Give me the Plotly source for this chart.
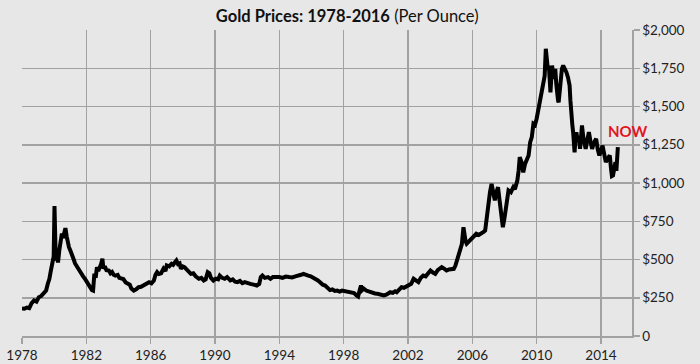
import plotly.graph_objects as go

years = [
    1978.00, 1978.15, 1978.30, 1978.45, 1978.60, 1978.75, 1978.90, 1979.05, 1979.20, 1979.35,
    1979.50, 1979.60, 1979.70, 1979.80, 1979.90, 1979.97, 1980.02, 1980.06, 1980.10, 1980.18,
    1980.24, 1980.32, 1980.40, 1980.48, 1980.55, 1980.62, 1980.70, 1980.78, 1980.86, 1980.92,
    1981.00, 1981.10, 1981.20, 1981.30, 1981.40, 1981.50, 1981.60, 1981.70, 1981.80, 1981.90,
    1982.00, 1982.10, 1982.25, 1982.35, 1982.42, 1982.50, 1982.58, 1982.66, 1982.74, 1982.82,
    1982.92, 1983.00, 1983.06, 1983.15, 1983.25, 1983.40, 1983.50, 1983.60, 1983.70, 1983.80,
    1983.95, 1984.05, 1984.20, 1984.30, 1984.45, 1984.60, 1984.70, 1984.80, 1984.95, 1985.10,
    1985.25, 1985.40, 1985.55, 1985.70, 1985.80, 1985.90, 1986.05, 1986.20, 1986.30, 1986.40,
    1986.50, 1986.65, 1986.80, 1986.92, 1987.00, 1987.15, 1987.30, 1987.40, 1987.50, 1987.60,
    1987.70, 1987.80, 1987.88, 1988.00, 1988.10, 1988.25, 1988.40, 1988.50, 1988.65, 1988.80,
    1989.00, 1989.15, 1989.30, 1989.42, 1989.55, 1989.65, 1989.75, 1989.90, 1990.05, 1990.20,
    1990.30, 1990.45, 1990.60, 1990.75, 1990.95, 1991.10, 1991.25, 1991.40, 1991.55, 1991.70,
    1991.85, 1992.00, 1992.20, 1992.40, 1992.60, 1992.75, 1992.85, 1992.95, 1993.10, 1993.30,
    1993.45, 1993.60, 1993.80, 1994.00, 1994.20, 1994.40, 1994.60, 1994.80, 1995.00, 1995.20,
    1995.35, 1995.50, 1995.65, 1995.80, 1995.95, 1996.10, 1996.25, 1996.40, 1996.55, 1996.70,
    1996.85, 1997.00, 1997.15, 1997.30, 1997.45, 1997.60, 1997.75, 1997.90, 1998.05, 1998.20,
    1998.35, 1998.50, 1998.65, 1998.80, 1998.90, 1999.00, 1999.08, 1999.15, 1999.25, 1999.40,
    1999.55, 1999.65, 1999.80, 1999.95, 2000.10, 2000.25, 2000.40, 2000.50, 2000.65, 2000.80,
    2000.90, 2001.05, 2001.20, 2001.30, 2001.45, 2001.60, 2001.75, 2001.90, 2002.05, 2002.20,
    2002.35, 2002.50, 2002.65, 2002.80, 2002.95, 2003.10, 2003.25, 2003.40, 2003.55, 2003.70,
    2003.85, 2004.00, 2004.10, 2004.25, 2004.40, 2004.55, 2004.70, 2004.85, 2004.95, 2005.05,
    2005.15, 2005.25, 2005.35, 2005.45, 2005.52, 2005.58, 2005.65, 2005.75, 2005.85, 2006.00,
    2006.15, 2006.25, 2006.40, 2006.55, 2006.70, 2006.80, 2006.90, 2007.00, 2007.10, 2007.20,
    2007.30, 2007.40, 2007.50, 2007.60, 2007.68, 2007.75, 2007.82, 2007.90, 2008.00, 2008.10,
    2008.18, 2008.25, 2008.40, 2008.55, 2008.65, 2008.80, 2008.88, 2008.95, 2009.05, 2009.17,
    2009.28, 2009.40, 2009.50, 2009.60, 2009.70, 2009.80, 2009.90, 2010.00, 2010.10, 2010.20,
    2010.30, 2010.40, 2010.50, 2010.57, 2010.63, 2010.70, 2010.76, 2010.82, 2010.86, 2010.92,
    2010.96, 2011.02, 2011.06, 2011.12, 2011.16, 2011.22, 2011.26, 2011.33, 2011.37, 2011.45,
    2011.52, 2011.57, 2011.65, 2011.75, 2011.85, 2011.95, 2012.05, 2012.10, 2012.15, 2012.22,
    2012.27, 2012.32, 2012.36, 2012.42, 2012.47, 2012.55, 2012.62, 2012.70, 2012.76, 2012.82,
    2012.90, 2012.98, 2013.05, 2013.15, 2013.25, 2013.35, 2013.45, 2013.55, 2013.70, 2013.80,
    2013.90, 2014.00, 2014.10, 2014.20, 2014.30, 2014.42, 2014.55, 2014.62, 2014.68, 2014.75,
    2014.82, 2014.90, 2014.96, 2015.00, 2015.05,
]

prices = [
    180, 178, 186, 182, 215, 232, 225, 254, 262, 282,
    297, 340, 372, 430, 470, 520, 850, 640, 493, 520,
    480, 560, 624, 670, 640, 690, 705, 650, 600, 580,
    560, 539, 505, 474, 455, 440, 428, 400, 390, 376,
    360, 335, 319, 300, 297, 408, 380, 450, 425, 440,
    470, 505, 441, 455, 430, 428, 410, 418, 400, 395,
    400, 380, 374, 372, 350, 341, 335, 310, 297, 305,
    319, 322, 330, 335, 341, 352, 345, 363, 400, 417,
    405, 410, 440, 425, 461, 455, 472, 465, 480, 493,
    470, 475, 439, 455, 450, 430, 420, 406, 410, 390,
    374, 380, 363, 370, 417, 410, 380, 363, 375, 370,
    395, 380, 374, 385, 363, 370, 355, 352, 360, 345,
    352, 345, 341, 336, 330, 340, 385, 395, 380, 385,
    374, 385, 388, 385, 380, 388, 385, 383, 390, 392,
    400, 406, 398, 395, 390, 382, 372, 363, 350, 335,
    330, 315, 300, 305, 295, 297, 290, 297, 294, 290,
    292, 286, 280, 265, 258, 300, 330, 300, 310, 297,
    290, 286, 280, 278, 276, 272, 268, 265, 270, 280,
    286, 282, 292, 286, 305, 319, 315, 324, 335, 341,
    374, 360, 352, 380, 395, 390, 410, 428, 415, 406,
    430, 445, 450, 440, 428, 435, 440, 439, 460, 493,
    530, 559, 600, 711, 650, 620, 603, 615, 624, 640,
    655, 668, 660, 668, 680, 690, 780, 886, 940, 995,
    930, 886, 940, 973, 900, 820, 760, 711, 770, 842,
    900, 951, 940, 973, 960, 1016, 1080, 1169, 1140, 1070,
    1125, 1158, 1180, 1267, 1300, 1387, 1380, 1420, 1480, 1528,
    1580, 1637, 1700, 1877, 1820, 1740, 1768, 1640, 1593, 1700,
    1768, 1720, 1681, 1720, 1746, 1650, 1572, 1540, 1528, 1637,
    1700, 1746, 1768, 1750, 1724, 1690, 1637, 1540, 1420, 1380,
    1332, 1260, 1201, 1300, 1332, 1280, 1300, 1223, 1320, 1376,
    1300, 1270, 1223, 1280, 1332, 1270, 1223, 1260, 1289, 1220,
    1180, 1210, 1245, 1190, 1136, 1160, 1180, 1100, 1045, 1049,
    1100, 1136, 1080, 1150, 1234,
]

x_ticks = [1978, 1982, 1986, 1990, 1994, 1998, 2002, 2006, 2010, 2014]
y_ticks = [0, 250, 500, 750, 1000, 1250, 1500, 1750, 2000]
y_tick_labels = ["0", "$250", "$500", "$750", "$1,000", "$1,250", "$1,500", "$1,750", "$2,000"]

title_bold = "Gold Prices: 1978-2016"
title_rest = "(Per Ounce)"
now_label = "NOW"

BG = "#e7e7e7"
GRID = "#a2a2a2"
FONT = "Lato"

fig = go.Figure()
fig.add_trace(go.Scatter(
    x=years, y=prices, mode="lines",
    line=dict(color="#000000", width=4),
    hoverinfo="skip", showlegend=False,
))

fig.add_annotation(
    x=2015.64, y=1340, xref="x", yref="y",
    text=f"<b>{now_label}</b>", showarrow=False,
    font=dict(family=FONT, size=15, color="#e3161f"),
    xanchor="center", yanchor="middle",
)

fig.update_layout(
    width=700, height=364,
    paper_bgcolor=BG, plot_bgcolor=BG,
    margin=dict(l=22, r=68, t=30, b=28, autoexpand=False),
    title=dict(
        text=f"<b>{title_bold}</b> {title_rest}",
        x=0.496, xanchor="center", y=0.955, yanchor="middle",
        font=dict(family=FONT, size=16.5, color="#111111"),
    ),
    font=dict(family=FONT, size=13.5, color="#222222"),
    hovermode=False,
)

fig.update_xaxes(
    range=[1978, 2015.93], automargin=False,
    tickvals=x_ticks, ticktext=[str(v) for v in x_ticks],
    showgrid=True, gridcolor=GRID, gridwidth=1.5,
    showline=True, linecolor=GRID, linewidth=1.5,
    ticks="outside", ticklen=6, tickcolor=GRID, tickwidth=1.5,
    zeroline=False,
    tickfont=dict(family=FONT, size=13.5, color="#222222"),
)
fig.update_yaxes(
    range=[0, 2000], side="right", automargin=False,
    tickvals=y_ticks, ticktext=y_tick_labels,
    showgrid=True, gridcolor=GRID, gridwidth=1.5,
    showline=True, linecolor=GRID, linewidth=1.5,
    ticks="outside", ticklen=6, tickcolor=GRID, tickwidth=1.5,
    zeroline=False,
    tickfont=dict(family=FONT, size=13.5, color="#222222"),
)

fig.write_html(
    "out.html",
    config={"displayModeBar": False, "staticPlot": True},
    post_script="document.body.style.margin='0';document.body.style.background='" + BG + "';",
)
